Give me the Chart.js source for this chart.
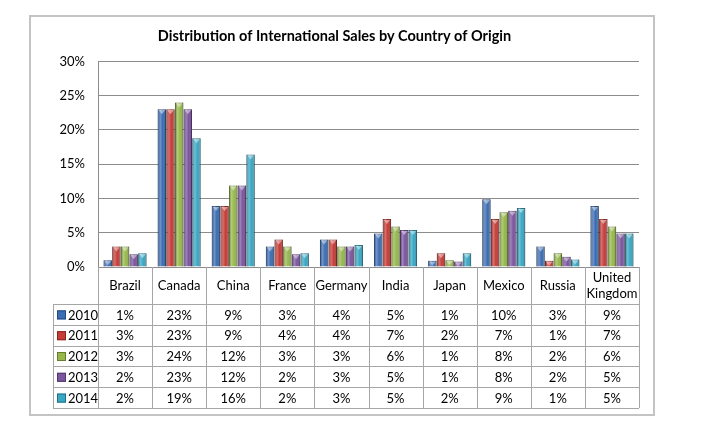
<!DOCTYPE html>
<html>
<head>
<meta charset="utf-8">
<script src="https://cdn.jsdelivr.net/npm/chart.js@4"></script>
<style>
  html, body { margin: 0; padding: 0; background: #fff; }
  #wrap { width: 702px; height: 425px; }
</style>
</head>
<body>
<div id="wrap"><canvas id="myChart" width="702" height="425"></canvas></div>
<script>
// DATA
const countries = ['Brazil', 'Canada', 'China', 'France', 'Germany', 'India', 'Japan', 'Mexico', 'Russia', ['United', 'Kingdom']];
const years = ['2010', '2011', '2012', '2013', '2014'];
const ticksY = [0, 5, 10, 15, 20, 25, 30];

// share of sales in %
const sales2010 = [1.0, 23.0, 8.9, 3.0, 4.0, 4.9, 0.93, 9.9, 3.0, 8.9];
const sales2011 = [3.0, 23.0, 8.9, 4.0, 4.0, 7.0, 2.0, 7.0, 0.93, 7.0];
const sales2012 = [3.0, 24.0, 11.9, 3.0, 3.0, 5.9, 0.97, 8.0, 2.0, 5.9];
const sales2013 = [1.85, 23.0, 11.9, 1.85, 3.0, 5.4, 0.8, 8.2, 1.5, 4.9];
const sales2014 = [2.0, 18.8, 16.4, 2.0, 3.2, 5.4, 2.0, 8.6, 1.1, 4.9];

const seriesList = [sales2010, sales2011, sales2012, sales2013, sales2014];
const fills = ['#3b6db4', '#c63c37', '#96b84b', '#7b559f', '#38a8c4'];
const edges = ['#24497d', '#8a2522', '#637d2c', '#52366d', '#217186'];

Chart.defaults.font.family = 'Lato, "Open Sans", sans-serif';
Chart.defaults.color = '#000';

// white page + grey frame round the chart
const framePlugin = {
  id: 'frame',
  beforeDraw(chart) {
    const ctx = chart.ctx;
    ctx.save();
    ctx.fillStyle = '#fff';
    ctx.fillRect(0, 0, chart.width, chart.height);
    ctx.strokeStyle = '#c4c4c4';
    ctx.lineWidth = 2;
    ctx.strokeRect(30, 16, 624, 399);
    ctx.restore();
  }
};

// shading so the bars look like the rounded office bars
const shadePlugin = {
  id: 'shade',
  afterDatasetsDraw(chart) {
    const ctx = chart.ctx;
    ctx.save();
    chart.data.datasets.forEach((ds, i) => {
      chart.getDatasetMeta(i).data.forEach(bar => {
        const left = bar.x - bar.width / 2;
        const h = bar.base - bar.y;
        const g = ctx.createLinearGradient(left, 0, left + bar.width, 0);
        g.addColorStop(0, 'rgba(0,0,0,0.25)');
        g.addColorStop(0.3, 'rgba(255,255,255,0.28)');
        g.addColorStop(0.6, 'rgba(255,255,255,0)');
        g.addColorStop(1, 'rgba(0,0,0,0.3)');
        ctx.fillStyle = g;
        ctx.fillRect(left, bar.y, bar.width, h);
        // little cap at the top
        ctx.fillStyle = 'rgba(255,255,255,0.45)';
        ctx.beginPath();
        ctx.moveTo(left + 1, bar.y + 1);
        ctx.lineTo(left + bar.width - 1, bar.y + 1);
        ctx.lineTo(bar.x, bar.y + Math.min(5, h));
        ctx.closePath();
        ctx.fill();
      });
    });
    ctx.restore();
  }
};

// data table under the plot
const tablePlugin = {
  id: 'dataTable',
  afterDraw(chart) {
    const ctx = chart.ctx;
    const area = chart.chartArea;
    const xs = chart.scales.x;
    const n = countries.length;
    const w = (area.right - area.left) / n;
    const top = area.bottom;
    const headBottom = top + 37;
    const rowH = 20.8;
    const bottom = headBottom + rowH * years.length;
    const colLeft = 53;

    ctx.save();
    ctx.strokeStyle = '#a6a6a6';
    ctx.lineWidth = 1;
    ctx.beginPath();
    for (let i = 0; i <= n; i++) {
      const x = Math.round(area.left + i * w) + 0.5;
      ctx.moveTo(x, top);
      ctx.lineTo(x, bottom);
    }
    ctx.moveTo(colLeft + 0.5, headBottom);
    ctx.lineTo(colLeft + 0.5, bottom);
    for (let r = 0; r <= years.length; r++) {
      const y = Math.round(headBottom + r * rowH) + 0.5;
      ctx.moveTo(colLeft, y);
      ctx.lineTo(area.right, y);
    }
    ctx.stroke();

    ctx.fillStyle = '#000';
    ctx.font = '13px Lato, "Open Sans", sans-serif';
    ctx.textAlign = 'center';
    ctx.textBaseline = 'middle';
    countries.forEach((c, i) => {
      const cx = xs.getPixelForTick(i);
      const cy = (top + headBottom) / 2;
      if (Array.isArray(c)) {
        ctx.fillText(c[0], cx, cy - 8);
        ctx.fillText(c[1], cx, cy + 8);
      } else {
        ctx.fillText(c, cx, cy);
      }
    });

    years.forEach((yr, r) => {
      const cy = headBottom + r * rowH + rowH / 2 + 1;
      // legend key
      ctx.fillStyle = fills[r];
      ctx.fillRect(colLeft + 4, cy - 5, 9, 9);
      ctx.strokeStyle = edges[r];
      ctx.strokeRect(colLeft + 4.5, cy - 4.5, 8, 8);
      ctx.fillStyle = '#000';
      ctx.textAlign = 'left';
      ctx.fillText(yr, colLeft + 15, cy);
      ctx.textAlign = 'center';
      seriesList[r].forEach((v, i) => {
        ctx.fillText(Math.round(v) + '%', xs.getPixelForTick(i), cy);
      });
    });
    ctx.restore();
  }
};

const ctx = document.getElementById('myChart').getContext('2d');

new Chart(ctx, {
  type: 'bar',
  data: {
    labels: countries,
    datasets: years.map((yr, i) => ({
      label: yr,
      data: seriesList[i],
      backgroundColor: fills[i],
      borderColor: edges[i],
      borderWidth: 1,
      categoryPercentage: 0.8,
      barPercentage: 0.97
    }))
  },
  options: {
    responsive: false,
    animation: false,
    layout: { padding: { left: 30, right: 63, top: 16, bottom: 158 } },
    plugins: {
      legend: { display: false },
      tooltip: { enabled: false },
      title: {
        display: true,
        text: 'Distribution of International Sales by Country of Origin',
        font: { size: 14.5, weight: 'bold' },
        color: '#000',
        padding: { top: 12, bottom: 16 }
      }
    },
    scales: {
      x: {
        grid: { display: false },
        border: { display: false },
        ticks: { display: false },
        afterFit(scale) { scale.height = 0; }
      },
      y: {
        min: 0,
        max: 30,
        afterBuildTicks(scale) { scale.ticks = ticksY.map(v => ({ value: v })); },
        ticks: {
          padding: 13,
          font: { size: 13 },
          callback: v => v + '%'
        },
        grid: { color: '#8c8c8c', drawTicks: false },
        border: { color: '#8c8c8c' },
        afterFit(scale) { scale.width = 68; }
      }
    }
  },
  plugins: [framePlugin, shadePlugin, tablePlugin]
});
</script>
</body>
</html>
